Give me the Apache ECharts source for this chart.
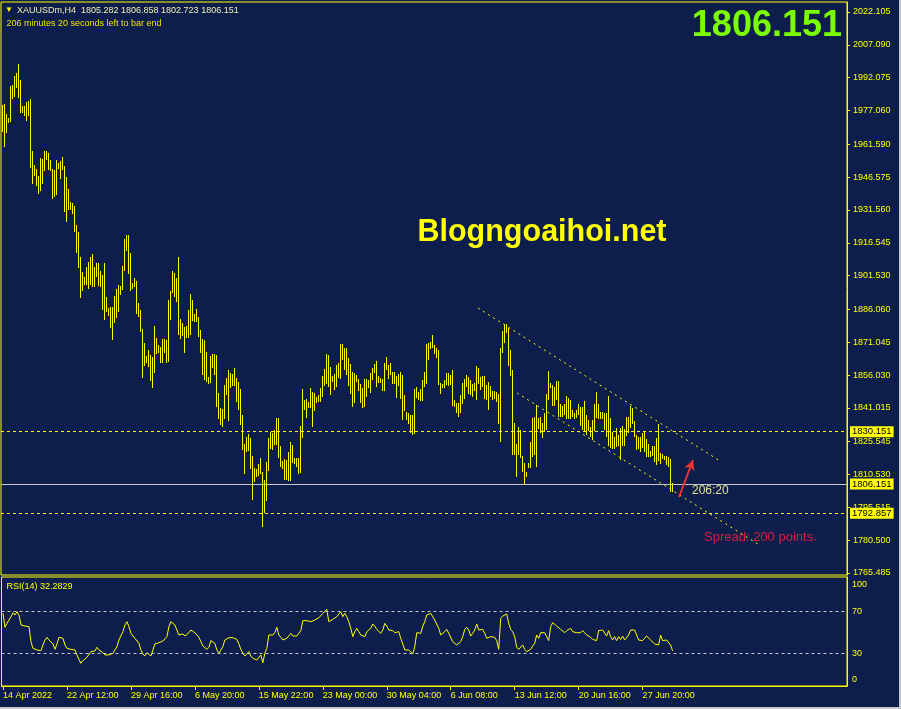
<!DOCTYPE html>
<html><head><meta charset="utf-8">
<script src="https://cdn.jsdelivr.net/npm/echarts@6.0.0/dist/echarts.min.js"></script>
<style>html,body{margin:0;padding:0;background:#0e1e4c;}#c{width:901px;height:709px;box-sizing:border-box;border-right:2px solid #c8c8c8;border-bottom:2px solid #c8c8c8;}</style>
</head><body><div id="c"></div>
<script>
// ---- data ----
const highs = [1979.5,1980.0,1975.3,1973.8,1988.3,1988.7,1992.8,1994.1,1998.3,1991.0,
1979.1,1979.1,1981.1,1981.4,1982.3,1958.5,1952.1,1950.3,1947.1,1955.3,
1954.9,1958.5,1958.5,1957.8,1954.4,1950.3,1949.8,1954.4,1952.9,1953.9,
1955.8,1951.7,1946.6,1941.1,1935.3,1934.9,1933.4,1924.7,1921.5,1910.0,
1903.2,1901.0,1905.4,1907.7,1910.0,1911.4,1905.4,1907.3,1907.3,1903.8,
1901.8,1907.3,1891.7,1886.8,1887.2,1887.2,1892.3,1895.4,1897.2,1896.9,
1906.1,1918.3,1920.1,1920.1,1911.9,1898.1,1900.4,1899.0,1889.0,1885.8,
1877.1,1870.7,1864.7,1867.5,1865.2,1864.3,1878.5,1873.0,1869.8,1868.9,
1872.5,1872.5,1872.1,1890.4,1894.5,1903.6,1902.6,1900.3,1910.0,1881.7,
1879.7,1878.2,1878.5,1885.8,1893.1,1890.4,1884.0,1886.2,1882.6,1876.6,
1872.5,1872.1,1866.6,1855.3,1864.9,1865.5,1865.5,1865.2,1848.0,1840.9,
1840.5,1851.6,1854.7,1858.3,1857.0,1856.5,1859.3,1854.7,1852.9,1849.7,
1837.8,1824.5,1827.7,1829.1,1827.2,1819.0,1813.5,1813.1,1815.4,1818.1,
1811.7,1808.0,1816.3,1827.2,1830.0,1829.7,1830.9,1836.4,1836.4,1823.6,
1816.9,1817.8,1817.2,1820.8,1825.4,1824.0,1818.1,1818.1,1818.1,1832.7,
1849.7,1844.6,1845.1,1843.7,1850.1,1848.3,1847.8,1846.1,1847.1,1850.1,
1855.6,1858.9,1865.7,1865.2,1859.7,1855.6,1856.5,1860.6,1861.4,1870.2,
1870.2,1868.4,1868.4,1863.8,1861.1,1857.4,1856.8,1856.1,1854.2,1851.9,
1850.1,1854.2,1854.1,1853.8,1856.8,1859.1,1861.1,1862.3,1855.6,1854.8,
1854.1,1861.4,1864.3,1860.6,1861.6,1857.4,1857.4,1855.8,1856.5,1857.3,
1856.1,1846.9,1839.3,1838.7,1837.8,1837.8,1849.7,1850.7,1848.4,1849.7,
1853.8,1857.4,1870.2,1870.7,1871.2,1874.4,1869.8,1868.4,1867.5,1852.4,
1851.9,1853.8,1857.0,1857.0,1856.1,1858.3,1844.6,1843.1,1843.3,1846.9,
1852.4,1854.2,1856.1,1855.0,1853.8,1851.9,1852.4,1860.2,1859.3,1855.1,
1855.6,1855.6,1851.5,1852.9,1851.0,1848.7,1848.7,1848.3,1847.4,1868.4,
1876.2,1879.4,1879.4,1877.6,1867.5,1858.3,1834.2,1824.5,1832.4,1830.9,
1819.0,1815.7,1811.8,1815.7,1825.6,1836.2,1837.0,1842.2,1836.2,1837.0,
1834.3,1838.5,1847.4,1857.9,1852.3,1851.5,1850.4,1853.3,1853.5,1842.6,
1841.9,1842.8,1846.5,1845.4,1844.6,1840.0,1838.8,1840.0,1842.8,1841.3,
1841.3,1844.2,1837.6,1835.5,1832.4,1835.5,1842.8,1848.4,1842.8,1839.0,
1839.3,1838.5,1838.5,1846.5,1836.2,1830.1,1827.8,1831.7,1828.6,1831.7,
1832.7,1831.2,1837.0,1837.0,1841.9,1840.8,1835.2,1828.6,1827.8,1827.8,
1829.4,1830.1,1826.6,1824.5,1821.4,1823.6,1823.6,1827.1,1833.6,1820.2,
1819.9,1819.0,1819.2,1818.5,1817.5,1806.858];
const lows = [1967.4,1960.5,1966.9,1971.5,1971.9,1982.5,1983.4,1987.5,1982.9,1976.1,
1976.1,1974.7,1972.4,1974.5,1950.6,1943.4,1947.2,1942.7,1939.0,1940.2,
1943.6,1949.4,1954.4,1949.7,1949.4,1936.7,1937.5,1938.4,1950.3,1945.9,
1950.0,1930.8,1926.2,1931.5,1931.5,1929.8,1921.6,1912.0,1905.1,1891.4,
1894.6,1897.2,1897.2,1895.5,1897.2,1896.5,1896.5,1901.0,1896.9,1896.1,
1885.9,1881.4,1885.0,1883.2,1877.7,1872.1,1880.0,1882.3,1885.0,1892.8,
1895.1,1903.8,1912.9,1902.4,1894.6,1895.5,1896.5,1884.1,1882.7,1875.9,
1854.8,1860.3,1861.7,1859.9,1853.4,1850.2,1857.1,1865.8,1865.9,1861.7,
1861.7,1866.3,1861.7,1862.1,1881.2,1893.4,1891.9,1889.6,1874.4,1872.5,
1874.0,1866.3,1873.1,1873.1,1874.4,1880.8,1880.2,1880.2,1873.6,1866.3,
1856.2,1853.8,1853.0,1852.1,1852.2,1859.4,1856.2,1841.6,1835.8,1833.2,
1832.4,1835.9,1846.9,1835.0,1850.3,1851.2,1851.0,1843.7,1840.1,1833.3,
1821.7,1810.8,1820.8,1821.3,1813.2,1798.9,1807.1,1809.5,1809.9,1810.8,
1786.7,1793.1,1798.4,1812.3,1822.1,1821.7,1824.0,1824.0,1818.1,1814.1,
1813.2,1808.2,1808.1,1807.7,1807.7,1815.6,1815.4,1813.8,1810.8,1811.4,
1827.2,1840.1,1836.4,1841.0,1841.0,1832.4,1839.6,1843.4,1843.7,1843.9,
1846.1,1851.2,1851.9,1850.7,1847.1,1852.9,1849.4,1850.7,1854.5,1854.2,
1862.9,1858.3,1856.1,1851.0,1847.4,1841.3,1843.1,1852.9,1848.7,1843.1,
1841.0,1841.3,1846.0,1849.9,1847.7,1853.8,1857.0,1850.6,1852.2,1852.6,
1848.7,1848.7,1858.3,1854.2,1856.1,1851.9,1851.9,1845.5,1851.0,1845.1,
1835.3,1839.6,1835.5,1833.5,1829.4,1828.6,1829.1,1845.4,1844.6,1844.2,
1844.2,1850.7,1851.9,1862.9,1867.9,1868.4,1865.7,1863.8,1851.5,1847.4,
1850.1,1850.2,1851.5,1851.0,1851.5,1841.7,1841.4,1838.5,1836.9,1838.5,
1842.8,1845.1,1850.6,1847.4,1846.9,1846.1,1848.7,1844.6,1851.8,1849.2,
1850.6,1845.2,1844.6,1840.0,1845.8,1844.6,1845.1,1843.5,1833.6,1825.6,
1866.3,1870.5,1875.1,1860.3,1855.6,1819.5,1819.5,1809.5,1819.5,1817.9,
1811.8,1805.6,1809.5,1813.7,1813.7,1818.7,1819.5,1814.1,1831.2,1829.7,
1827.1,1830.1,1830.9,1844.6,1849.9,1841.9,1841.9,1844.6,1837.0,1837.0,
1836.7,1837.6,1835.8,1835.9,1836.1,1836.7,1835.8,1836.5,1837.8,1832.7,
1830.9,1830.4,1828.6,1830.6,1827.8,1826.3,1830.6,1836.2,1835.8,1835.9,
1836.1,1830.9,1827.8,1823.7,1822.5,1822.2,1822.4,1823.3,1823.6,1817.2,
1823.6,1823.7,1828.2,1829.4,1831.7,1833.7,1827.8,1821.8,1822.1,1821.0,
1822.5,1821.0,1818.7,1818.7,1818.7,1819.2,1816.1,1814.9,1816.9,1815.3,
1817.6,1817.2,1815.0,1814.0,1802.7,1802.723];
const rsi = [68.4,55.0,58.8,62.0,65.2,69.0,66.8,70.0,66.8,57.2,
55.6,56.2,56.2,55.6,41.2,34.8,35.8,33.2,33.8,32.6,
38.0,42.8,45.4,42.8,41.2,39.0,33.8,39.0,45.4,45.4,
44.4,38.0,34.8,35.8,33.8,34.8,33.2,28.4,24.2,20.4,
23.0,24.2,26.2,25.2,31.6,30.6,32.2,35.8,33.2,34.5,
30.6,28.4,30.0,28.4,26.8,30.0,33.2,36.4,42.8,44.4,
50.8,57.2,60.4,55.6,49.2,47.6,44.4,42.8,39.6,33.2,
29.4,27.4,30.6,29.4,27.4,33.2,39.0,38.0,40.2,39.0,
41.8,42.2,46.0,55.6,60.4,62.0,57.2,57.2,47.6,46.0,
48.6,46.6,47.3,49.8,52.4,51.8,49.8,47.6,45.4,41.2,
37.0,35.8,33.8,35.8,42.2,42.8,39.6,33.2,30.0,30.0,
36.4,42.8,44.4,45.0,45.4,45.0,45.4,43.4,39.0,33.8,
30.0,27.4,29.4,31.6,27.4,25.2,26.2,23.6,25.2,28.4,
21.0,30.0,34.8,47.6,49.2,47.6,49.8,55.0,47.6,45.4,
42.8,41.2,44.4,42.8,49.2,46.6,46.0,46.6,45.4,51.8,
61.4,62.0,61.4,62.0,60.4,61.4,62.0,63.6,64.2,65.2,
68.4,70.0,72.2,60.4,62.0,62.6,63.6,65.2,66.8,70.0,
65.2,68.4,65.2,60.4,54.0,46.0,50.8,54.0,50.8,47.6,
46.6,46.0,50.8,52.4,54.0,58.2,56.2,53.0,51.8,49.2,
52.4,58.8,56.2,52.4,53.0,51.8,49.8,50.8,50.8,44.4,
39.0,33.2,33.8,33.2,31.6,29.4,36.4,49.8,50.8,49.2,
56.2,60.4,66.8,68.4,68.4,66.8,62.0,60.4,54.0,47.6,
47.6,50.8,53.0,49.2,47.6,41.2,40.2,38.0,39.0,41.2,
46.0,53.0,55.0,52.4,46.6,49.2,52.4,58.2,52.4,51.8,
53.0,49.2,44.4,45.4,46.0,44.4,45.4,42.2,33.8,63.6,
65.8,65.2,67.8,58.8,53.0,50.8,46.0,35.8,33.8,34.8,
38.0,33.8,31.6,30.6,33.8,37.0,39.6,47.6,44.4,49.8,
49.2,49.8,48.6,42.2,55.6,59.4,58.8,56.2,56.2,53.0,
54.0,49.8,51.8,50.8,54.0,50.8,50.8,49.8,48.6,49.8,
51.8,49.8,47.6,46.6,45.4,43.4,44.4,42.2,51.8,52.4,
52.4,50.8,46.6,51.8,46.0,42.8,46.0,42.2,46.0,43.4,
46.6,42.8,42.8,47.6,52.4,54.0,52.4,47.6,42.8,41.2,
42.2,44.4,46.6,46.0,42.8,41.2,39.0,39.6,38.0,47.6,
42.2,42.8,42.8,42.8,38.0,32.2829];
const priceTicks = ['1765.485','1780.500','1795.515','1810.530','1825.545','1841.015','1856.030','1871.045','1886.060','1901.530','1916.545','1931.560','1946.575','1961.590','1977.060','1992.075','2007.090','2022.105'];
const timeTickIndex = [0,32,64,96,128,160,192,224,256,288,320];
const timeTickLabels = ['14 Apr 2022','22 Apr 12:00','29 Apr 16:00','6 May 20:00','15 May 22:00','23 May 00:00','30 May 04:00','6 Jun 08:00','13 Jun 12:00','20 Jun 16:00','27 Jun 20:00'];
const rsiTicks = [0,30,70,100];
const rsiLevels = [70,30];
const yellowLevels = ['1830.151','1792.857'];
const bidLevel = '1806.151';
const channelUpper = [[237.75,1886.70],[358.75,1816.72]];
const channelLower = [[257.25,1847.83],[379.25,1777.84]];
const arrowLine = [[338.25,1800.25],[345.25,1817.18]];
const header = {sym:'XAUUSDm,H4', o:'1805.282', h:'1806.858', l:'1802.723', c:'1806.151'};

// ---- chart ----
const YEL = '#ffff00';
const FONT = '"Liberation Sans", Arial, sans-serif';
const chart = echarts.init(document.getElementById('c'), null, {renderer:'canvas'});
const bars = highs.map((h,i)=>[i,h,lows[i]]);
const xMin = -0.75, xMax = 422.25;

const lvlLabel = s => ({show:true, position:'end', distance:3, backgroundColor:YEL, color:'#000', fontSize:9.5, fontFamily:FONT, padding:[1,2,0,2], formatter:()=>s});

const option = {
  backgroundColor:'#0e1e4c',
  animation:false,
  grid:[
    {left:1, top:2, width:846, height:573, show:true, borderColor:YEL, borderWidth:1, backgroundColor:'transparent'},
    {left:1, top:577, width:846, height:109, show:true, borderColor:YEL, borderWidth:1, backgroundColor:'transparent'}
  ],
  xAxis:[
    {type:'value', gridIndex:0, min:xMin, max:xMax, show:false, axisLine:{onZero:false}},
    {type:'value', gridIndex:1, min:xMin, max:xMax, position:'bottom',
      axisLine:{show:true, onZero:false, lineStyle:{color:YEL}},
      axisTick:{show:true, customValues:timeTickIndex, length:4, lineStyle:{color:YEL}},
      axisLabel:{show:true, customValues:timeTickIndex, color:YEL, fontSize:9, fontFamily:FONT, align:'left', margin:5,
        formatter:v=>timeTickLabels[timeTickIndex.indexOf(Math.round(v))] || ''},
      splitLine:{show:false}}
  ],
  yAxis:[
    {type:'value', gridIndex:0, position:'right', min:1764.570, max:2026.679,
      axisLine:{show:true, onZero:false, lineStyle:{color:YEL}},
      axisTick:{show:true, customValues:priceTicks.map(Number), length:3, lineStyle:{color:YEL}},
      axisLabel:{show:true, customValues:priceTicks.map(Number), color:YEL, fontSize:9, fontFamily:FONT, margin:6,
        formatter:v=>Number(v).toFixed(3)},
      splitLine:{show:false}},
    {type:'value', gridIndex:1, position:'right', min:-1.44, max:103.37,
      axisLine:{show:true, onZero:false, lineStyle:{color:YEL}},
      axisTick:{show:false},
      axisLabel:{show:true, customValues:rsiTicks, color:YEL, fontSize:9, fontFamily:FONT, margin:5,
        verticalAlignMinLabel:'bottom', verticalAlignMaxLabel:'top', formatter:v=>String(v)},
      splitLine:{show:false}}
  ],
  series:[
    {type:'custom', xAxisIndex:0, yAxisIndex:0, data:bars, z:3, clip:true,
      renderItem:(params, api)=>{
        const p1 = api.coord([api.value(0), api.value(1)]);
        const p2 = api.coord([api.value(0), api.value(2)]);
        const x = Math.floor(p1[0]) + 0.5;
        let y1 = Math.round(p1[1]), y2 = Math.round(p2[1]);
        if (y2 - y1 < 1) y2 = y1 + 1;
        return {type:'line', shape:{x1:x, y1:y1, x2:x, y2:y2}, style:{stroke:YEL, lineWidth:1}};
      }},
    {type:'line', xAxisIndex:0, yAxisIndex:0, data:[[0, highs[0]]], showSymbol:false, lineStyle:{opacity:0}, z:4, silent:true,
      markLine:{silent:true, symbol:['none','none'], animation:false, precision:3,
        data:[
          {yAxis:Number(yellowLevels[0]), lineStyle:{color:YEL, type:[3,3], width:1}, label:lvlLabel(yellowLevels[0])},
          {yAxis:Number(bidLevel), lineStyle:{color:'#c8c8c8', type:'solid', width:1}, label:lvlLabel(bidLevel)},
          {yAxis:Number(yellowLevels[1]), lineStyle:{color:YEL, type:[3,3], width:1}, label:lvlLabel(yellowLevels[1])},
          [{coord:channelUpper[0], lineStyle:{color:YEL, type:[2,4], width:1}, label:{show:false}}, {coord:channelUpper[1]}],
          [{coord:channelLower[0], lineStyle:{color:YEL, type:[2,4], width:1}, label:{show:false}}, {coord:channelLower[1]}],
          [{coord:arrowLine[0], symbol:'none', lineStyle:{color:'#f03232', type:'solid', width:2}, label:{show:false}}, {coord:arrowLine[1], symbol:'arrow', symbolSize:[8,10]}]
        ]}},
    {type:'line', xAxisIndex:1, yAxisIndex:1, data:rsi.map((v,i)=>[i,v]), showSymbol:false, z:3,
      lineStyle:{color:YEL, width:1},
      markLine:{silent:true, symbol:['none','none'], animation:false, label:{show:false},
        data:rsiLevels.map(v=>({yAxis:v, lineStyle:{color:'#c8c8c8', type:[3,3], width:1}}))}}
  ],
  graphic:[
    {type:'text', x:5, y:10, style:{text:'▼', fill:YEL, font:'8px '+FONT, verticalAlign:'middle'}},
    {type:'text', x:17, y:10.5, style:{text:header.sym+'  '+header.o+' '+header.h+' '+header.l+' '+header.c, fill:'#f0f0b0', font:'9px '+FONT, verticalAlign:'middle'}},
    {type:'text', x:6.5, y:24, style:{text:'206 minutes 20 seconds left to bar end', fill:'#f0e000', font:'9px '+FONT, verticalAlign:'middle'}},
    {type:'text', x:842, y:26, style:{text:header.c, fill:'#7cfc00', font:'bold 36px '+FONT, align:'right', verticalAlign:'middle'}},
    {type:'text', x:542, y:233, style:{text:'Blogngoaihoi.net', fill:YEL, font:'bold 30.5px '+FONT, align:'center', verticalAlign:'middle'}},
    {type:'text', x:692, y:490.5, style:{text:'206:20', fill:'#e0e090', font:'12px '+FONT, verticalAlign:'middle'}},
    {type:'text', x:704, y:537, style:{text:'Spread: 200 points.', fill:'#dc1e3c', font:'13px '+FONT, verticalAlign:'middle'}},
    {type:'text', x:6.5, y:586.5, style:{text:'RSI(14) 32.2829', fill:YEL, font:'9px '+FONT, verticalAlign:'middle'}}
  ]
};
chart.setOption(option);
</script></body></html>
